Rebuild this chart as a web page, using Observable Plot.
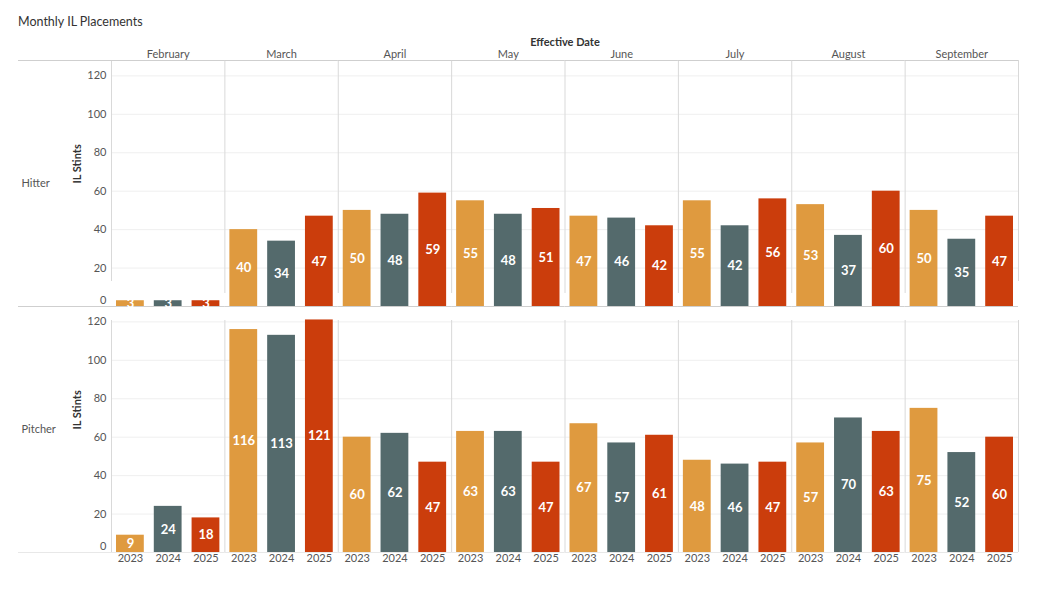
<!DOCTYPE html>
<html><head><meta charset="utf-8">
<script src="https://cdn.jsdelivr.net/npm/d3@7"></script>
<script src="https://cdn.jsdelivr.net/npm/@observablehq/plot@0.6"></script>
<style>
body{margin:0;background:#fff;font-family:Lato,"Open Sans",sans-serif;}
#title{height:32px;box-sizing:border-box;padding:14px 0 0 18px;font-size:12.5px;line-height:16px;color:#333;}
</style></head><body>
<div id="title">Monthly IL Placements</div>
<div id="chart"></div>
<script>
const months = ["February","March","April","May","June","July","August","September"];
const years = ["2023","2024","2025"];
const roles = ["Hitter","Pitcher"];
const hitter2023 = [3,40,50,55,47,55,53,50];
const hitter2024 = [3,34,48,48,46,42,37,35];
const hitter2025 = [3,47,59,51,42,56,60,47];
const pitcher2023 = [9,116,60,63,67,48,57,75];
const pitcher2024 = [24,113,62,63,57,46,70,52];
const pitcher2025 = [18,121,47,47,61,47,63,60];
const yTicks = [0,20,40,60,80,100,120];
const yMax = 128;
const colors = ["#DF9A3F","#546A6C","#CB3D0C"];

const series = {
  Hitter: [hitter2023, hitter2024, hitter2025],
  Pitcher: [pitcher2023, pitcher2024, pitcher2025]
};
const data = [];
for (const role of roles)
  years.forEach((year, j) =>
    months.forEach((month, i) => data.push({role, year, month, value: series[role][j][i]})));

const W = 1052, H = 560, ML = 111, MR = 34, MT = 28, MB = 40;
const half = (W - ML - MR) / months.length / years.length / 2;
const sep = "#d9d9d9";

const chart = Plot.plot({
  width: W, height: H,
  marginLeft: ML, marginRight: MR, marginTop: MT, marginBottom: MB,
  style: {fontFamily: "Lato, 'Open Sans', sans-serif", fontSize: "11px", color: "#555", background: "#fff"},
  fx: {domain: months, padding: 0, round: false, axis: null},
  fy: {domain: roles, padding: 0, round: false, axis: null},
  x: {domain: years, padding: 0, round: false, axis: null},
  y: {domain: [0, yMax], axis: null},
  color: {domain: years, range: colors},
  marks: [
    Plot.gridY({ticks: yTicks.slice(1), stroke: "#efefef", strokeOpacity: 1}),
    // vertical separators
    Plot.ruleX(months.slice(1), {fx: d => d, fy: () => "Hitter", x: () => years[0], dx: -half, y1: 0, y2: yMax, insetTop: -13, stroke: sep}),
    Plot.ruleX(months.slice(0,1), {fx: d => d, fy: () => "Hitter", x: () => years[0], dx: -half, y1: 0, y2: yMax, insetTop: -25, stroke: sep}),
    Plot.ruleX(months.slice(-1), {fx: d => d, fy: () => "Hitter", x: () => years[2], dx: half, y1: 0, y2: yMax, insetTop: -25, stroke: sep}),
    Plot.ruleX(months, {fx: d => d, fy: () => "Pitcher", x: () => years[0], dx: -half, y1: 0, y2: yMax, insetBottom: -14, stroke: sep}),
    Plot.ruleX(months.slice(-1), {fx: d => d, fy: () => "Pitcher", x: () => years[2], dx: half, y1: 0, y2: yMax, insetBottom: -14, stroke: sep}),
    // horizontal separators
    Plot.ruleY([yMax], {fy: () => "Hitter", stroke: "#cfcfcf"}),
    Plot.ruleY([yMax], {fx: () => months[0], fy: () => "Hitter", insetLeft: -93, stroke: "#cfcfcf"}),
    Plot.ruleY([0], {fy: () => "Hitter", stroke: "#cfcfcf"}),
    Plot.ruleY([0], {fx: () => months[0], fy: () => "Hitter", insetLeft: -93, stroke: "#cfcfcf"}),
    Plot.ruleY([0], {fy: () => "Pitcher", stroke: "#e8e8e8"}),
    Plot.ruleY([0], {fx: () => months[0], fy: () => "Pitcher", insetLeft: -93, stroke: "#e8e8e8"}),
    // bars
    Plot.barY(data, {fx: "month", fy: "role", x: "year", y: "value", fill: "year", insetLeft: 5, insetRight: 5}),
    Plot.text(data, {fx: "month", fy: "role", x: "year", y: d => d.value / 2, text: "value", fill: "white", fontWeight: "bold", fontSize: 13}),
    // axes
    Plot.axisY({ticks: yTicks.slice(1), tickSize: 0, tickPadding: 5, label: null, fill: "#555"}),
    Plot.axisY({ticks: yTicks.slice(0,1), tickSize: 0, tickPadding: 5, dy: -6, label: null, fill: "#555"}),
    Plot.axisX({anchor: "bottom", tickSize: 0, tickPadding: 2, label: null, fill: "#555"}),
    Plot.axisFx({anchor: "top", tickSize: 0, tickPadding: 3, label: null, fill: "#555"}),
    Plot.axisFy({anchor: "left", tickSize: 0, tickPadding: 0, textAnchor: "start", dx: -90, label: null, fill: "#555"}),
    Plot.text(roles, {fy: d => d, fx: () => months[0], frameAnchor: "left", dx: -34, rotate: -90, text: () => "IL Stints", fontWeight: "bold", fontSize: 11, fill: "#333"}),
    Plot.text(["Effective Date"], {fx: () => "May", fy: () => "Hitter", frameAnchor: "top-right", textAnchor: "middle", dy: -22, text: d => d, fontWeight: "bold", fontSize: 11, fill: "#333"})
  ]
});
document.getElementById("chart").appendChild(chart);
</script></body></html>
